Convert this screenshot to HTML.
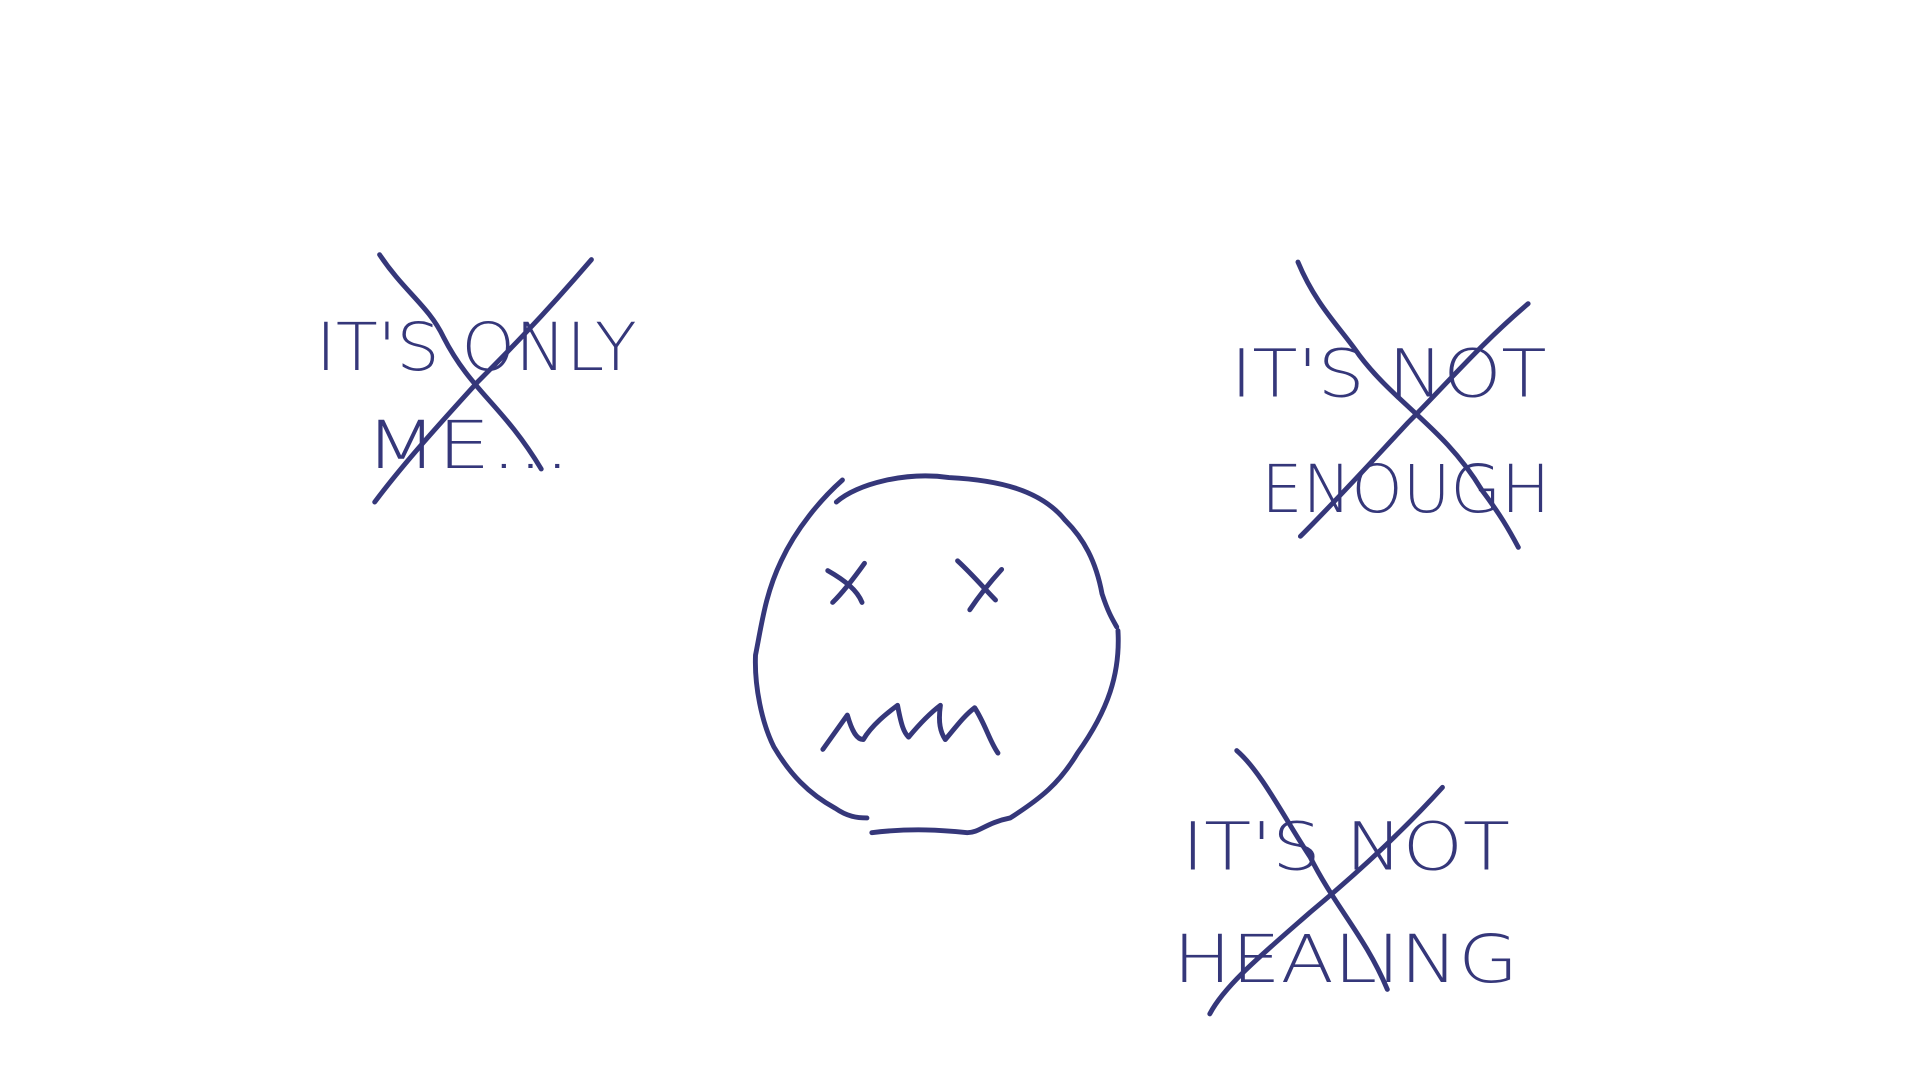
<!DOCTYPE html>
<html>
<head>
<meta charset="utf-8">
<style>
  html,body{margin:0;padding:0;background:#fff;}
  svg{display:block;}
  .ink{fill:none;stroke:#35377a;stroke-width:4;stroke-linecap:round;stroke-linejoin:round;}
  .hand{font-family:"DejaVu Sans","Liberation Sans",sans-serif;font-weight:200;font-size:54px;fill:#35377a;stroke:none;}
</style>
</head>
<body>
<svg width="1920" height="1080" viewBox="0 0 1568 882" preserveAspectRatio="none">
  <rect x="0" y="0" width="1568" height="882" fill="#fff"/>

  <g>
    <text class="hand" x="258" y="302" textLength="262" lengthAdjust="spacingAndGlyphs">IT'S ONLY</text>
    <text class="hand" x="298" y="382" textLength="168" lengthAdjust="spacingAndGlyphs">ME...</text>
    <path class="ink" d="M310,208 C330,238 350,250 362,275 C385,320 410,330 442,383"/>
    <path class="ink" d="M483,212 C440,262 410,292 390,312 C360,345 330,378 306,410"/>
  </g>

  <g>
    <text class="hand" x="1005" y="324" textLength="258" lengthAdjust="spacingAndGlyphs">IT'S NOT</text>
    <text class="hand" x="1030" y="418" textLength="236" lengthAdjust="spacingAndGlyphs">ENOUGH</text>
    <path class="ink" d="M1060,214 C1075,250 1095,268 1110,290 C1140,330 1180,350 1210,400 C1225,420 1232,432 1240,447"/>
    <path class="ink" d="M1248,248 C1210,280 1180,315 1150,345 C1110,388 1090,410 1062,438"/>
  </g>

  <g>
    <text class="hand" x="965" y="710" textLength="268" lengthAdjust="spacingAndGlyphs">IT'S NOT</text>
    <text class="hand" x="958" y="802" textLength="282" lengthAdjust="spacingAndGlyphs">HEALING</text>
    <path class="ink" d="M1010,613 C1030,630 1050,670 1070,700 C1090,740 1115,765 1133,808"/>
    <path class="ink" d="M1178,643 C1140,685 1100,720 1070,745 C1030,780 1000,805 988,828"/>
  </g>

  <g>
    <path class="ink" d="M688,392 C670,408 650,432 638,458 C625,485 622,510 617,535 C616,560 622,590 632,610 C645,632 660,648 682,660 C692,667 700,668 708,668"/>
    <path class="ink" d="M683,410 C700,395 740,385 775,390 C815,392 850,400 870,425 C885,440 895,458 900,485 C905,500 908,505 912,512"/>
    <path class="ink" d="M913,515 C915,550 905,580 880,615 C865,640 850,652 825,668 C805,672 800,680 790,680 C770,678 745,676 712,680"/>
    <path class="ink" d="M676,466 C690,474 700,482 704,492 M706,460 C696,474 688,484 680,492"/>
    <path class="ink" d="M782,458 C795,470 805,482 813,490 M818,465 C808,476 800,486 792,498"/>
    <path class="ink" d="M672,612 L692,584 C696,598 700,604 705,604 C712,592 725,582 733,576 C736,592 738,598 742,602 C752,590 760,582 768,576 C766,590 768,598 772,604 C782,592 788,584 796,578 C805,592 808,605 815,615"/>
  </g>
</svg>
</body>
</html>
